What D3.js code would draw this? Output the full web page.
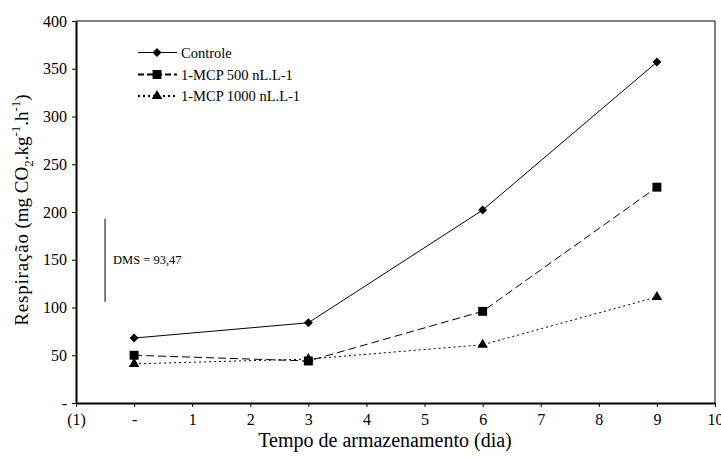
<!DOCTYPE html>
<html>
<head>
<meta charset="utf-8">
<script src="https://cdn.jsdelivr.net/npm/d3@7"></script>
<style>
  html, body { margin: 0; padding: 0; background: #fff; }
  svg { display: block; font-family: "Liberation Serif", "Times New Roman", serif; }
</style>
</head>
<body>
<svg id="chart" width="721" height="457"></svg>
<script>
// ---- data ----
const days = [0, 3, 6, 9];
const controle = [68, 84, 202, 357];
const mcp500 = [50, 44, 96, 226];
const mcp1000 = [41, 46, 61, 111];
const seriesNames = ["Controle", "1-MCP 500 nL.L-1", "1-MCP 1000 nL.L-1"];
const xTickValues = [-1, 0, 1, 2, 3, 4, 5, 6, 7, 8, 9, 10];
const xTickLabels = ["(1)", "-", "1", "2", "3", "4", "5", "6", "7", "8", "9", "10"];
const yTickValues = [0, 50, 100, 150, 200, 250, 300, 350, 400];
const yTickLabels = ["-", "50", "100", "150", "200", "250", "300", "350", "400"];
const dmsLabel = "DMS = 93,47";
const dmsRange = [106, 193];
const dmsX = -0.5;

// ---- setup ----
const svg = d3.select("#chart");
const mLeft = 76, mRight = 715, mTop = 21, mBottom = 403;
const x = d3.scaleLinear().domain([-1, 10]).range([mLeft, mRight]);
const y = d3.scaleLinear().domain([0, 400]).range([mBottom, mTop]);

// frame (top & right)
svg.append("path")
  .attr("d", `M${mLeft},${mTop}H${mRight}V${mBottom}`)
  .attr("fill", "none").attr("stroke", "#000").attr("stroke-width", 1);

// x axis
const xAxis = d3.axisBottom(x).tickValues(xTickValues)
  .tickFormat((d, i) => xTickLabels[i]).tickSize(4).tickSizeOuter(0);
const gx = svg.append("g").attr("transform", `translate(0,${mBottom})`).call(xAxis);
gx.attr("font-family", "Liberation Serif");
gx.select(".domain").attr("stroke-width", 2);
gx.selectAll(".tick line").attr("stroke-width", 1);
gx.selectAll(".tick text").attr("font-size", 16)
  .attr("fill", "#000").attr("dy", "0.95em");

// y axis
const yAxis = d3.axisLeft(y).tickValues(yTickValues)
  .tickFormat((d, i) => yTickLabels[i]).tickSize(4).tickSizeOuter(0);
const gy = svg.append("g").attr("transform", `translate(${mLeft},0)`).call(yAxis);
gy.attr("font-family", "Liberation Serif");
gy.select(".domain").attr("stroke-width", 2);
gy.selectAll(".tick text").attr("font-size", 16)
  .attr("fill", "#000").attr("x", -9);

// axis titles
svg.append("text")
  .attr("x", 385).attr("y", 447)
  .attr("text-anchor", "middle").attr("font-size", 20)
  .text("Tempo de armazenamento (dia)");

const yt = svg.append("text")
  .attr("transform", "translate(28,210) rotate(-90)")
  .attr("text-anchor", "middle").attr("font-size", 19);
yt.append("tspan").attr("letter-spacing", "0.8").text("Respiração");
yt.append("tspan").text(" (mg CO");
yt.append("tspan").attr("font-size", 13).attr("dy", 5).text("2");
yt.append("tspan").attr("dy", -5).text(".kg");
yt.append("tspan").attr("font-size", 13).attr("dy", -8).text("-1");
yt.append("tspan").attr("dy", 8).text(".h");
yt.append("tspan").attr("font-size", 13).attr("dy", -8).text("-1");
yt.append("tspan").attr("dy", 8).text(")");

// DMS bar
svg.append("line")
  .attr("x1", x(dmsX)).attr("x2", x(dmsX))
  .attr("y1", y(dmsRange[0])).attr("y2", y(dmsRange[1]))
  .attr("stroke", "#000").attr("stroke-width", 1);
svg.append("text")
  .attr("x", x(dmsX) + 8).attr("y", y((dmsRange[0] + dmsRange[1]) / 2) + 4)
  .attr("font-size", 12.5).text(dmsLabel);

// series
const series = [
  { name: seriesNames[0], values: controle, dash: null, symbol: d3.symbolSquare, size: 40, rot: 45 },
  { name: seriesNames[1], values: mcp500, dash: "8,4", symbol: d3.symbolSquare, size: 80, rot: 0 },
  { name: seriesNames[2], values: mcp1000, dash: "2,3", symbol: d3.symbolTriangle, size: 48, rot: 0 }
];

const line = d3.line().x(d => x(d[0])).y(d => y(d[1]));

series.forEach(s => {
  const pts = days.map((d, i) => [d, s.values[i]]);
  svg.append("path").datum(pts)
    .attr("d", line).attr("fill", "none").attr("stroke", "#000")
    .attr("stroke-width", 1).attr("stroke-dasharray", s.dash);
  svg.selectAll(null).data(pts).enter().append("path")
    .attr("transform", d => `translate(${x(d[0])},${y(d[1])}) rotate(${s.rot})`)
    .attr("d", d3.symbol().type(s.symbol).size(s.size))
    .attr("fill", "#000");
});

// legend
const legY = [52.5, 74.5, 96];
series.forEach((s, i) => {
  const g = svg.append("g").attr("transform", `translate(0,${legY[i]})`);
  g.append("line").attr("x1", 138).attr("x2", 177).attr("y1", 0).attr("y2", 0)
    .attr("stroke", "#000").attr("stroke-width", s.dash ? 2 : 1.2)
    .attr("stroke-dasharray", s.dash ? (i === 1 ? "6,3" : "2,3") : null);
  g.append("path").attr("transform", `translate(157,0) rotate(${s.rot})`)
    .attr("d", d3.symbol().type(s.symbol).size(s.size)).attr("fill", "#000");
  g.append("text").attr("x", 181).attr("y", 5).attr("font-size", 14.5).text(s.name);
});
</script>
</body>
</html>
